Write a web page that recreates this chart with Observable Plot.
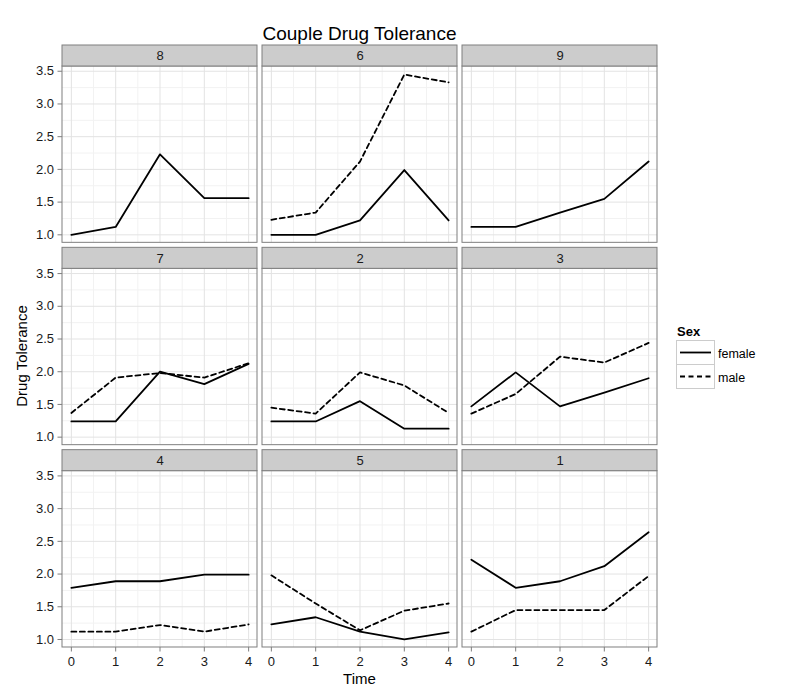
<!DOCTYPE html>
<html>
<head>
<meta charset="utf-8">
<script src="https://cdn.jsdelivr.net/npm/d3@7"></script>
<script src="https://cdn.jsdelivr.net/npm/@observablehq/plot@0.6"></script>
<style>
  html, body { margin: 0; padding: 0; background: white; }
  #chart { position: relative; width: 800px; height: 700px; }
</style>
</head>
<body>
<div id="chart"></div>
<script>
// Couples in facet order (row-major), measurement occasions, tick values
const couples = ["8", "6", "9", "7", "2", "3", "4", "5", "1"];
const times = [0, 1, 2, 3, 4];
const sexes = ["female", "male"];
const yTicks = [1.0, 1.5, 2.0, 2.5, 3.0, 3.5];
const xTicks = [0, 1, 2, 3, 4];

// Drug tolerance per couple (same order as `couples`), one value per time
const femaleTolerance = [
  [1.00, 1.12, 2.23, 1.56, 1.56],
  [1.00, 1.00, 1.22, 1.99, 1.22],
  [1.12, 1.12, 1.34, 1.55, 2.12],
  [1.24, 1.24, 2.00, 1.81, 2.12],
  [1.24, 1.24, 1.55, 1.13, 1.13],
  [1.47, 1.99, 1.47, 1.68, 1.90],
  [1.79, 1.89, 1.89, 1.99, 1.99],
  [1.23, 1.34, 1.12, 1.00, 1.11],
  [2.22, 1.79, 1.89, 2.12, 2.64]
];
const maleTolerance = [
  null,
  [1.23, 1.34, 2.12, 3.45, 3.33],
  null,
  [1.37, 1.91, 1.98, 1.91, 2.13],
  [1.45, 1.36, 1.99, 1.79, 1.37],
  [1.36, 1.66, 2.23, 2.14, 2.44],
  [1.12, 1.12, 1.22, 1.12, 1.23],
  [1.98, 1.55, 1.14, 1.44, 1.55],
  [1.12, 1.45, 1.45, 1.45, 1.97]
];

// Long-format table: one row per couple × sex × time
const points = [];
couples.forEach((couple, i) => {
  const col = i % 3, row = Math.floor(i / 3);
  [femaleTolerance[i], maleTolerance[i]].forEach((vals, s) => {
    if (!vals) return;
    vals.forEach((v, t) => points.push({couple, col, row, sex: sexes[s], time: times[t], tolerance: v}));
  });
});

// Layout
const W = 800, H = 700;
const M = {top: 45, right: 143, bottom: 53, left: 62};
const gapPx = 5, stripPx = 21;
const nCols = 3, nRows = 3;
const stepX = (W - M.left - M.right + gapPx) / nCols;
const stepY = (H - M.top - M.bottom + gapPx) / nRows;
const cellH = stepY - gapPx;

// Continuous scales expanded by 5% on each side
const xExt = d3.extent(points, d => d.time);
const yExt = d3.extent(points, d => d.tolerance);
const xPad = (xExt[1] - xExt[0]) * 0.05, yPad = (yExt[1] - yExt[0]) * 0.05;
const xlo = xExt[0] - xPad, xhi = xExt[1] + xPad;
const ylo = yExt[0] - yPad, yhi = yExt[1] + yPad;
// the strip sits above the panel inside each facet cell
const yTop = yhi + stripPx * (yhi - ylo) / (cellH - stripPx);

const mid = a => a.slice(1).map((v, i) => (v + a[i]) / 2);
const yMinor = mid(yTicks), xMinor = mid(xTicks);

const font = "'Liberation Sans', Arial, sans-serif";
const ink = "#1a1a1a";
const border = "#7f7f7f";
const dash = "5,3.5";
const lineW = 1.8;

const plot = Plot.plot({
  width: W, height: H,
  marginTop: M.top, marginRight: M.right, marginBottom: M.bottom, marginLeft: M.left,
  facet: {data: points, x: "col", y: "row",
          marginTop: M.top, marginRight: M.right, marginBottom: M.bottom, marginLeft: M.left},
  fx: {domain: d3.range(nCols), axis: null, paddingInner: gapPx / stepX, paddingOuter: 0, round: false},
  fy: {domain: d3.range(nRows), axis: null, paddingInner: gapPx / stepY, paddingOuter: 0, round: false},
  x: {domain: [xlo, xhi], axis: null},
  y: {domain: [ylo, yTop], axis: null},
  style: {fontFamily: font, fontSize: "13px", background: "white"},
  marks: [
    Plot.ruleY(yMinor, {x1: xlo, x2: xhi, stroke: "#f2f2f2", strokeWidth: 1}),
    Plot.ruleX(xMinor, {y1: ylo, y2: yhi, stroke: "#f2f2f2", strokeWidth: 1}),
    Plot.ruleY(yTicks, {x1: xlo, x2: xhi, stroke: "#e3e3e3", strokeWidth: 1}),
    Plot.ruleX(xTicks, {y1: ylo, y2: yhi, stroke: "#e3e3e3", strokeWidth: 1}),
    Plot.rect([0], {x1: xlo, x2: xhi, y1: ylo, y2: yhi, fill: "none", stroke: border}),
    Plot.rect([0], {x1: xlo, x2: xhi, y1: yhi, y2: yTop, fill: "#cccccc", stroke: border}),
    Plot.text(points, {
      filter: d => d.time === times[0] && d.sex === "female",
      frameAnchor: "top", dy: stripPx / 2, lineAnchor: "middle",
      text: "couple", fontSize: 13, fill: ink
    }),
    Plot.line(points, {filter: d => d.sex === "female", x: "time", y: "tolerance",
      stroke: "black", strokeWidth: lineW}),
    Plot.line(points, {filter: d => d.sex === "male", x: "time", y: "tolerance",
      stroke: "black", strokeWidth: lineW, strokeDasharray: dash}),
    Plot.axisY(yTicks, {anchor: "left", label: null, tickFormat: d3.format(".1f"),
      tickSize: 4.5, tickPadding: 4, fontSize: 13, stroke: border, fill: ink}),
    Plot.axisX(xTicks, {anchor: "bottom", label: null, tickFormat: d3.format("d"),
      tickSize: 4.5, tickPadding: 5, fontSize: 13, stroke: border, fill: ink})
  ]
});

document.getElementById("chart").append(plot);

// Title, axis titles and legend
const svg = d3.select(plot);
const cx = M.left + (W - M.left - M.right) / 2;
svg.append("text").attr("x", cx).attr("y", 40).attr("text-anchor", "middle")
  .attr("font-family", font).attr("font-size", 19).attr("fill", "black")
  .text("Couple Drug Tolerance");
svg.append("text").attr("x", cx).attr("y", 684).attr("text-anchor", "middle")
  .attr("font-family", font).attr("font-size", 15).attr("fill", "black")
  .text("Time");
svg.append("text").attr("transform", "translate(26.5,356) rotate(-90)")
  .attr("text-anchor", "middle")
  .attr("font-family", font).attr("font-size", 15).attr("fill", "black")
  .text("Drug Tolerance");

const lg = svg.append("g").attr("transform", "translate(677,336)").attr("text-anchor", "start");
lg.append("text").attr("x", 0).attr("y", 0).attr("text-anchor", "start")
  .attr("font-family", font).attr("font-size", 13).attr("font-weight", "bold").attr("fill", "black")
  .text("Sex");
sexes.forEach((s, i) => {
  const y0 = 4.5 + i * 24;
  lg.append("rect").attr("x", -0.5).attr("y", y0).attr("width", 38).attr("height", 24)
    .attr("fill", "white").attr("stroke", "#cccccc");
  lg.append("line").attr("x1", 3).attr("x2", 34).attr("y1", y0 + 12).attr("y2", y0 + 12)
    .attr("stroke", "black").attr("stroke-width", lineW)
    .attr("stroke-dasharray", s === "male" ? dash : null);
  lg.append("text").attr("x", 41).attr("y", y0 + 13).attr("dominant-baseline", "central")
    .attr("text-anchor", "start")
    .attr("font-family", font).attr("font-size", 12.5).attr("fill", "black")
    .text(s);
});
</script>
</body>
</html>
